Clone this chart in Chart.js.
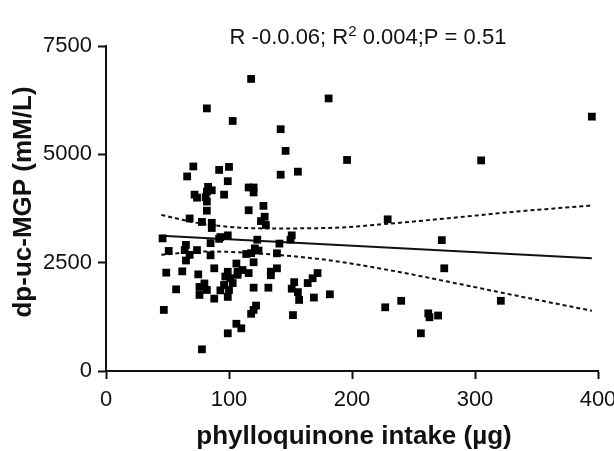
<!DOCTYPE html>
<html>
<head>
<meta charset="utf-8">
<script src="https://cdn.jsdelivr.net/npm/chart.js@4.4.1/dist/chart.umd.min.js"></script>
<style>
  html, body { margin: 0; padding: 0; background: #fff; }
  #wrap { width: 614px; height: 451px; }
</style>
</head>
<body>
<div id="wrap"><canvas id="chart" width="614" height="451"></canvas></div>
<script>
// phylloquinone intake (ug) vs dp-uc-MGP
const intake = [
  46, 47, 49, 51, 57, 62, 65, 64, 74, 68, 65, 66, 68, 71, 72, 74, 75, 76, 76, 80,
  82, 78, 78, 82, 81, 82, 83, 86, 82, 82, 86, 86, 85, 85, 88, 88, 92, 100, 99, 96,
  93, 99, 92, 93, 96, 99, 99, 106, 110, 103, 118, 106, 99, 97, 103, 101, 100, 107, 111, 107,
  116, 116, 120, 120, 116, 128, 129, 126, 130, 123, 121, 118, 124, 114, 120, 120, 132, 122, 120, 118,
  139, 139, 134, 134, 141, 142, 146, 142, 156, 151, 150, 153, 151, 156, 157, 152, 164, 168, 172, 169,
  181, 182, 196, 229, 227, 240, 256, 262, 263, 270, 273, 275, 305, 321, 395,
];
const mgp = [
  3060, 1410, 2270, 2770, 1885, 2300, 2910, 2790, 2790, 2680, 2550, 4490, 3520, 4720, 4070, 4000, 2230, 1940, 1755, 2020,
  1870, 500, 3440, 6060, 4010, 4140, 4250, 4170, 3910, 3700, 3420, 3300, 2950, 2670, 2370, 1670, 4640, 4710, 4380, 4070,
  3090, 3130, 3050, 1860, 1985, 1710, 870, 1090, 985, 5770, 6740, 2480, 2290, 2180, 2030, 2140, 1870, 2290, 2330, 2220,
  2260, 4235, 4235, 4120, 3710, 3810, 3560, 3460, 3370, 3030, 2830, 2720, 2780, 2700, 2510, 1923, 1923, 1510, 1410, 1320,
  2716, 2370, 2292, 2210, 2940, 5580, 5080, 4530, 4600, 3130, 3030, 2050, 1900, 1820, 1640, 1290, 2030, 2140, 2260, 1695,
  6290, 1770, 4870, 3500, 1470, 1620, 870, 1330, 1240, 1280, 3020, 2370, 4860, 1620, 5870,
];

// fitted line and 95% band
const fitX = [45, 395];
const fitY = [3120, 2600];
const bandX = [45, 80, 130, 180, 230, 280, 330, 395];
const bandUpper = [3600, 3390, 3290, 3300, 3400, 3530, 3670, 3820];
const bandLower = [2680, 2760, 2700, 2560, 2330, 2050, 1760, 1390];

const xTicks = [0, 100, 200, 300, 400];
const yTicks = [0, 2500, 5000, 7500];

const ink = '#111';
const font = 'Liberation Sans, Arial, Helvetica, sans-serif';

const toPoints = (xs, ys) => xs.map((x, i) => ({ x, y: ys[i] }));

const titles = {
  id: 'titles',
  afterDraw(chart) {
    const { ctx } = chart;
    ctx.save();
    ctx.fillStyle = ink;

    // header with superscript 2
    const big = `22px ${font}`;
    const small = `15px ${font}`;
    const head1 = 'R -0.0.06; R';
    const sup = '2';
    const head2 = ' 0.004;P = 0.51';
    ctx.font = big;
    const w1 = ctx.measureText(head1).width;
    const w2 = ctx.measureText(head2).width;
    ctx.font = small;
    const ws = ctx.measureText(sup).width;
    let x = 368 - (w1 + ws + w2) / 2;
    const base = 44;
    ctx.textBaseline = 'alphabetic';
    ctx.textAlign = 'left';
    ctx.font = big;
    ctx.fillText(head1, x, base);
    x += w1;
    ctx.font = small;
    ctx.fillText(sup, x, base - 8);
    x += ws;
    ctx.font = big;
    ctx.fillText(head2, x, base);

    // axis titles
    ctx.font = `bold 26px ${font}`;
    ctx.textAlign = 'center';
    ctx.fillText('phylloquinone intake (\u00b5g)', 354, 444);

    ctx.translate(24, 202);
    ctx.rotate(-Math.PI / 2);
    ctx.textBaseline = 'middle';
    ctx.fillText('dp-uc-MGP (mM/L)', 0, 0);
    ctx.restore();
  },
};

const axis = (min, max, ticks, size) => ({
  type: 'linear',
  min,
  max,
  afterBuildTicks: (scale) => { scale.ticks = ticks.map((value) => ({ value })); },
  ticks: {
    color: ink,
    font: { family: font, size },
    padding: 6,
    callback: (value) => String(value),
  },
  grid: {
    drawOnChartArea: false,
    drawTicks: true,
    tickLength: 8,
    tickWidth: 2,
    tickColor: ink,
  },
  border: { display: true, color: ink, width: 2 },
});

const xAxis = axis(0, 400, xTicks, 22);
xAxis.ticks.padding = 8;
xAxis.afterFit = (scale) => {
  scale.height = 80;
  scale.paddingLeft = 0;
  scale.paddingRight = 0;
};

const yAxis = axis(0, 7500, yTicks, 22);
yAxis.afterFit = (scale) => {
  scale.width = 106;
  scale.paddingTop = 0;
  scale.paddingBottom = 0;
};

const band = (ys) => ({
  data: toPoints(bandX, ys),
  showLine: true,
  borderColor: ink,
  borderWidth: 2,
  borderDash: [4, 3],
  pointRadius: 0,
  cubicInterpolationMode: 'monotone',
  fill: false,
});

new Chart(document.getElementById('chart'), {
  type: 'scatter',
  data: {
    datasets: [
      {
        data: toPoints(intake, mgp),
        pointStyle: 'rect',
        pointRadius: 5.5,
        backgroundColor: '#000',
        borderColor: '#000',
        borderWidth: 0,
        clip: false,
      },
      {
        data: toPoints(fitX, fitY),
        showLine: true,
        borderColor: ink,
        borderWidth: 2,
        pointRadius: 0,
      },
      band(bandUpper),
      band(bandLower),
    ],
  },
  options: {
    responsive: false,
    animation: false,
    layout: { padding: { top: 46, right: 16, left: 0, bottom: 0 } },
    plugins: {
      legend: { display: false },
      tooltip: { enabled: false },
    },
    scales: { x: xAxis, y: yAxis },
  },
  plugins: [titles],
});
</script>
</body>
</html>
